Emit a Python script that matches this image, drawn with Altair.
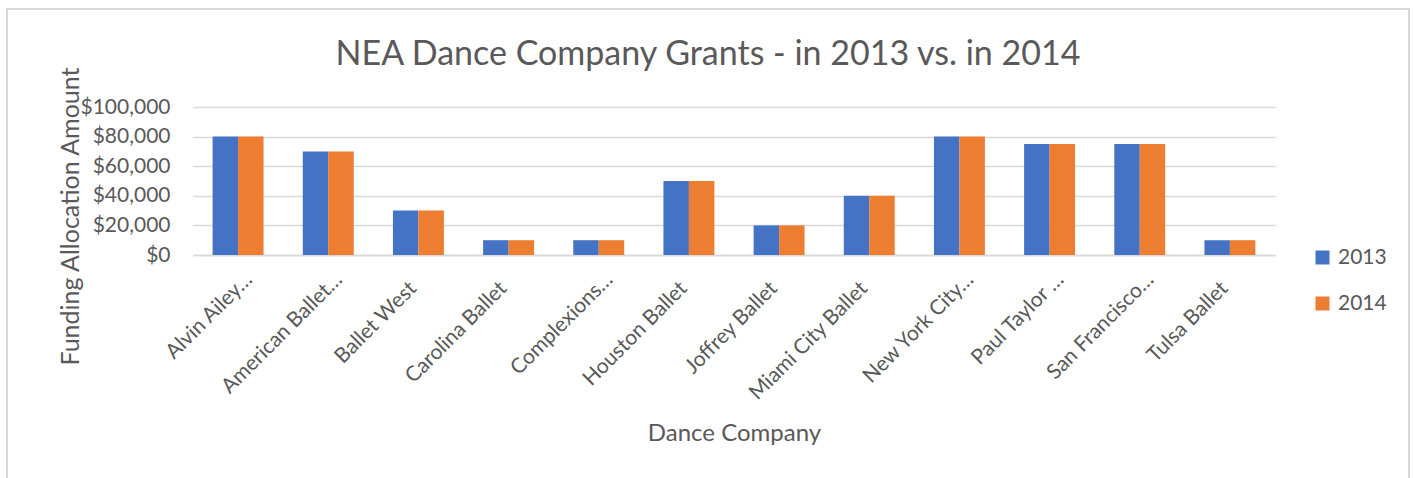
import altair as alt
import pandas as pd

companies = ["Alvin Ailey…", "American Ballet…", "Ballet West", "Carolina Ballet",
             "Complexions…", "Houston Ballet", "Joffrey Ballet", "Miami City Ballet",
             "New York City…", "Paul Taylor …", "San Francisco…", "Tulsa Ballet"]
grants_2013 = [80000, 70000, 30000, 10000, 10000, 50000, 20000, 40000, 80000, 75000, 75000, 10000]
grants_2014 = [80000, 70000, 30000, 10000, 10000, 50000, 20000, 40000, 80000, 75000, 75000, 10000]
years = ["2013", "2014"]
y_ticks = [0, 20000, 40000, 60000, 80000, 100000]

rows = []
for c, a, b in zip(companies, grants_2013, grants_2014):
    rows.append({"company": c, "year": years[0], "amount": a})
    rows.append({"company": c, "year": years[1], "amount": b})
df = pd.DataFrame(rows)

FONT = "Lato"
TXT = "#595959"
GRID = "#D9D9D9"

L, T = 193, 107
W, H = 1082, 148

TRUNC = "indexof(datum.value, '…') >= 0"

bars = alt.Chart(df).mark_bar().encode(
    x=alt.X("company:N", sort=companies,
            scale=alt.Scale(paddingInner=0.435, paddingOuter=0.2175),
            axis=alt.Axis(title="Dance Company", labelAngle=-45, labelAlign="right",
                          labelBaseline="middle", labelFontSize=21, labelColor=TXT,
                          labelFont=FONT,
                          labelPadding={"condition": {"test": TRUNC, "value": 21}, "value": 30},
                          labelOffset={"condition": {"test": TRUNC, "value": 11}, "value": -5},
                          ticks=False,
                          domainColor=GRID, domainWidth=1.5,
                          titleFont=FONT, titleFontSize=24, titleColor=TXT,
                          titleFontWeight="normal", titleBaseline="middle",
                          titleY=178)),
    xOffset=alt.XOffset("year:N", sort=years),
    y=alt.Y("amount:Q", scale=alt.Scale(domain=[0, 100000]),
            axis=alt.Axis(title="Funding Allocation Amount", format="$,.0f",
                          values=y_ticks, labelOverlap=False,
                          labelFontSize=21, labelColor=TXT, labelFont=FONT,
                          labelPadding=23, ticks=False, domain=False,
                          gridColor=GRID, gridWidth=1.5,
                          titleFont=FONT, titleFontSize=25, titleColor=TXT,
                          titleFontWeight="normal", titleBaseline="middle",
                          titleAlign="center", titleAngle=-90,
                          titleX=-123, titleY=109)),
    color=alt.Color("year:N", sort=years,
                    scale=alt.Scale(domain=years, range=["#4472C4", "#ED7D31"]),
                    legend=alt.Legend(title=None, orient="none", legendX=1119, legendY=140,
                                      symbolType="square", symbolSize=196,
                                      symbolStrokeWidth=0, labelFont=FONT,
                                      labelFontSize=21, labelColor=TXT,
                                      rowPadding=24, padding=0, labelOffset=5)),
)

frame = alt.Chart(pd.DataFrame({"k": [0]})).mark_rect(
    fill=None, stroke=GRID, strokeWidth=2, clip=False
).encode(
    x=alt.value(7 - L), x2=alt.value(1409 - L),
    y=alt.value(9 - T), y2=alt.value(478 - T + 20),
)

chart = alt.layer(frame, bars).properties(
    width=W, height=H,
    title=alt.TitleParams("NEA Dance Company Grants - in 2013 vs. in 2014",
                          font=FONT, fontSize=34, color=TXT, fontWeight="normal",
                          anchor="middle", dx=-26, offset=-64),
    autosize=alt.AutoSizeParams(type="none"),
    padding={"left": L, "top": T, "right": 1414 - L - W, "bottom": 478 - T - H},
).configure(background="white").configure_view(stroke=None)

chart.save("out.html", embed_options={"renderer": "svg", "actions": False})
